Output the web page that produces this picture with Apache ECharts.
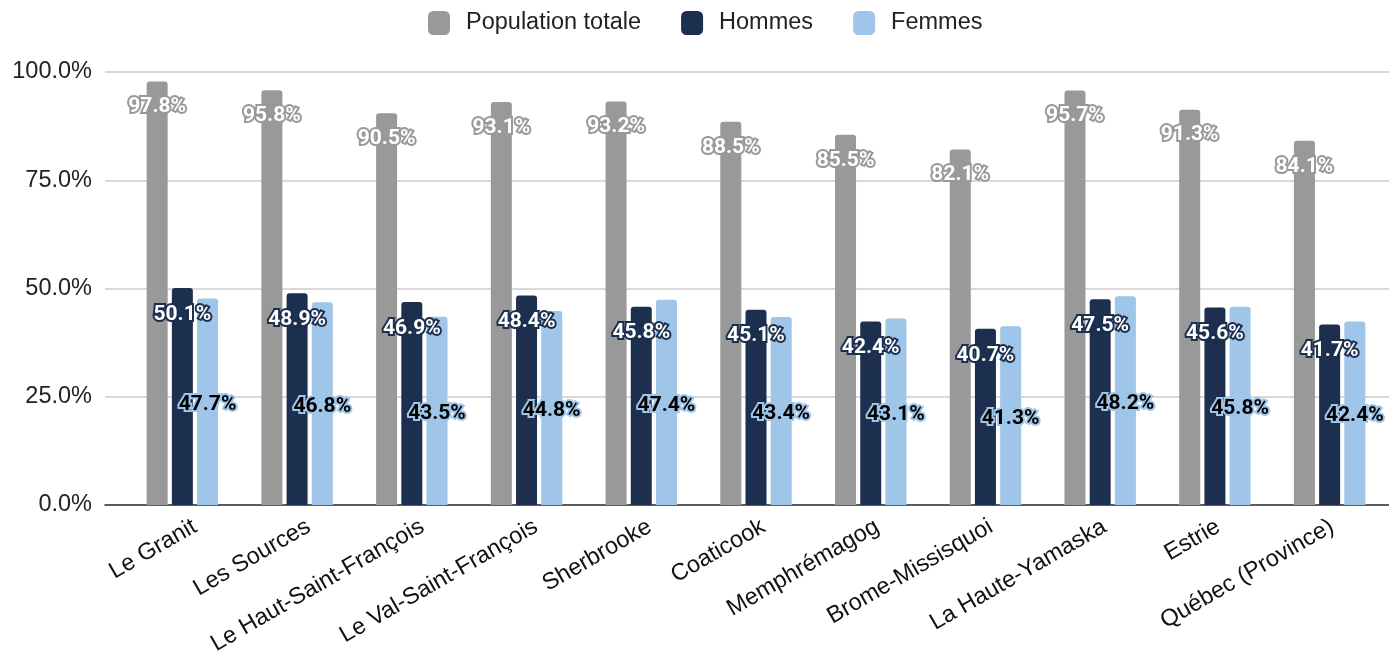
<!DOCTYPE html>
<html>
<head>
<meta charset="utf-8">
<script src="https://cdn.jsdelivr.net/npm/echarts@6/dist/echarts.min.js"></script>
<style>
html,body{margin:0;padding:0;background:#fff;}
#chart{width:1389px;height:664px;}
</style>
</head>
<body>
<div id="chart"></div>
<script>
const categories = ["Le Granit","Les Sources","Le Haut-Saint-François","Le Val-Saint-François","Sherbrooke","Coaticook","Memphrémagog","Brome-Missisquoi","La Haute-Yamaska","Estrie","Québec (Province)"];
const populationTotale = [97.8,95.8,90.5,93.1,93.2,88.5,85.5,82.1,95.7,91.3,84.1];
const hommes = [50.1,48.9,46.9,48.4,45.8,45.1,42.4,40.7,47.5,45.6,41.7];
const femmes = [47.7,46.8,43.5,44.8,47.4,43.4,43.1,41.3,48.2,45.8,42.4];
const seriesNames = ["Population totale","Hommes","Femmes"];
const yTicks = [0,25,50,75,100];

const GRAY = '#999999', NAVY = '#1c2f4e', LBLUE = '#9fc5e8';
const lab = (pos, dist, color, border, off) => ({
  show: true, position: pos, distance: dist, offset: off || [0,0],
  fontFamily: 'Roboto', fontWeight: 'bold', fontSize: 21,
  color: color, textBorderColor: border, textBorderWidth: 4,
  formatter: p => p.value.toFixed(1) + '%'
});

const chart = echarts.init(document.getElementById('chart'));
chart.setOption({
  animation: false,
  legend: {
    top: 6, left: 423, itemWidth: 22, itemHeight: 24, itemGap: 40,
    icon: 'roundRect',
    textStyle: {fontFamily: 'Liberation Sans', fontSize: 23.5, color: '#222', padding: [0,0,0,11]},
    data: seriesNames
  },
  grid: [
    {left: 125, right: 2, top: 72, bottom: 159},
    {left: 138, right: -11, top: 72, bottom: 159},
    {left: 105, right: 0, top: 72, bottom: 159}
  ],
  xAxis: [{
    type: 'category', data: categories, gridIndex: 0,
    axisLine: {show: false}, axisTick: {show: false}, axisLabel: {show: false}
  }, {
    type: 'category', data: categories, gridIndex: 1,
    axisLine: {show: false}, axisTick: {show: false}, splitLine: {show: false},
    axisLabel: {rotate: 30, interval: 0, margin: 20, fontFamily: 'Liberation Sans', fontSize: 23.5, color: '#111'}
  }, {
    type: 'category', data: categories, gridIndex: 2,
    axisLine: {lineStyle: {color: '#333', width: 1.5}},
    axisTick: {show: false}, axisLabel: {show: false}
  }],
  yAxis: [{
    type: 'value', gridIndex: 0, min: yTicks[0], max: yTicks[yTicks.length-1], interval: 25,
    axisLabel: {margin: 33, fontFamily: 'Liberation Sans', fontSize: 23.5, color: '#222', formatter: v => v.toFixed(1) + '%'},
    splitLine: {show: false},
    axisLine: {show: false}, axisTick: {show: false}
  }, {
    type: 'value', gridIndex: 1, min: 0, max: 100, show: false
  }, {
    type: 'value', gridIndex: 2, min: yTicks[0], max: yTicks[yTicks.length-1], interval: 25,
    axisLabel: {show: false}, axisLine: {show: false}, axisTick: {show: false},
    splitLine: {lineStyle: {color: '#cccccc', width: 1.5}}
  }],
  series: [
    {name: seriesNames[0], type: 'bar', data: populationTotale, barWidth: 21, barGap: '20%',
     itemStyle: {color: GRAY, borderRadius: [3,3,0,0]}, label: lab('insideTop', 15, '#fff', GRAY)},
    {name: seriesNames[1], type: 'bar', data: hommes, barWidth: 21, barGap: '20%',
     itemStyle: {color: NAVY, borderRadius: [3,3,0,0]}, label: lab('insideTop', 16, '#fff', NAVY)},
    {name: seriesNames[2], type: 'bar', data: femmes, barWidth: 21, barGap: '20%',
     itemStyle: {color: LBLUE, borderRadius: [3,3,0,0]}, label: lab('inside', 0, '#000', LBLUE, [0,3])}
  ]
});
</script>
</body>
</html>
